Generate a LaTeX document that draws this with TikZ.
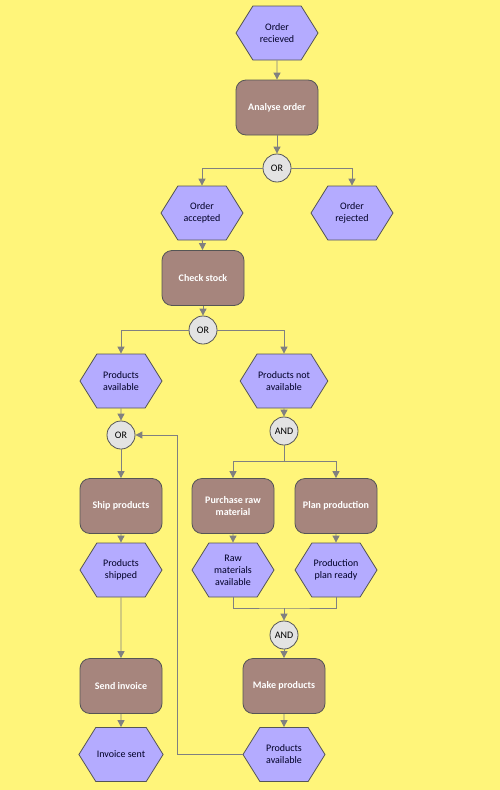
\documentclass[tikz,border=0pt]{standalone}
\usepackage{fontspec}
\setmainfont{Carlito}
\usetikzlibrary{shapes.symbols,arrows.meta}
\definecolor{bgyellow}{RGB}{255,245,122}
\definecolor{evlilac}{RGB}{180,171,255}
\definecolor{fnbrown}{RGB}{166,133,125}
\definecolor{gtgray}{RGB}{227,227,227}
\definecolor{lngray}{RGB}{128,128,128}
\definecolor{bdgray}{RGB}{85,85,85}
\tikzset{
  event/.style={signal, signal to=west and east, signal pointer angle=116,
    draw=bdgray, fill=evlilac, line width=0.8pt, minimum width=82pt, minimum height=54pt,
    inner sep=1pt, align=center, text=black!75!blue!60!black, font=\fontsize{10}{12}\selectfont},
  func/.style={rectangle, rounded corners=10pt, draw=bdgray, fill=fnbrown, line width=0.8pt,
    minimum width=82pt, minimum height=55pt, align=center, text=white,
    font=\fontsize{10}{12}\selectfont\bfseries},
  gate/.style={circle, draw=bdgray, fill=gtgray, line width=0.8pt, minimum size=28pt,
    inner sep=0pt, font=\fontsize{10}{12}\selectfont},
  flow/.style={draw=lngray, line width=0.9pt, -{Triangle[width=7pt,length=7pt]}},
  flowline/.style={draw=lngray, line width=0.9pt}
}
\begin{document}
\begin{tikzpicture}[x=1pt,y=-1pt]

    \fill[bgyellow] (0,0) rectangle (500,790);
    \useasboundingbox (0,0) rectangle (500,790);

    % top: order handling
    \node [event] (received) at (277,33) {Order\\recieved};
    \node [func] (analyse) at (277,107.5) {Analyse order};
    \node [gate] (or1) at (277,168) {OR};
    \node [event] (accepted) at (202,213) {Order\\accepted};
    \node [event] (rejected) at (352,213) {Order\\rejected};

    % stock check
    \node [func] (check) at (203,278) {Check stock};
    \node [gate] (or2) at (203,330) {OR};
    \node [event] (avail) at (121,381) {Products\\available};
    \node [event] (notavail) at (284,381) {Products not\\available};

    % left branch: shipping
    \node [gate] (or3) at (121,435) {OR};
    \node [func] (ship) at (121,506) {Ship products};
    \node [event] (shipped) at (121,570) {Products\\shipped};
    \node [func] (invoice) at (121,686) {Send invoice};
    \node [event] (sent) at (121,754.5) {Invoice sent};

    % right branch: production
    \node [gate] (and1) at (284,431) {AND};
    \node [func] (purchase) at (233,506) {Purchase raw\\material};
    \node [func] (plan) at (336,506) {Plan production};
    \node [event] (rawavail) at (233,570) {Raw\\materials\\available};
    \node [event] (ready) at (336,570) {Production\\plan ready};
    \node [gate] (and2) at (284,635) {AND};
    \node [func] (make) at (284,686) {Make products};
    \node [event] (made) at (284,754.5) {Products\\available};

    \coordinate (split) at (284,461);
    \coordinate (merge) at (284,608);
    \coordinate (loop) at (177,435);

    % connectors
    \draw [flow] (received) -- (analyse);
    \draw [flow] (analyse) -- (or1);
    \draw [flow] (or1.west) -| (accepted.north);
    \draw [flow] (or1.east) -| (rejected.north);
    \draw [flow] (accepted) -- (check);
    \draw [flow] (check) -- (or2);
    \draw [flow] (or2.west) -| (avail.north);
    \draw [flow] (or2.east) -| (notavail.north);
    \draw [flow] (avail) -- (or3);
    \draw [flow] (or3) -- (ship);
    \draw [flow] (ship) -- (shipped);
    \draw [flow] (shipped) -- (invoice);
    \draw [flow] (invoice) -- (sent);
    \draw [flow] (notavail) -- (and1);
    \draw [flowline] (and1) -- (split);
    \draw [flow] (split) -| (purchase.north);
    \draw [flow] (split) -| (plan.north);
    \draw [flow] (purchase) -- (rawavail);
    \draw [flow] (plan) -- (ready);
    \draw [flowline] (rawavail.south) |- (merge) -| (ready.south);
    \draw [flow] (merge) -- (and2);
    \draw [flow] (and2) -- (make);
    \draw [flow] (make) -- (made);
    \draw [flow] (made.west) -| (loop) -- (or3.east);

\end{tikzpicture}
\end{document}
